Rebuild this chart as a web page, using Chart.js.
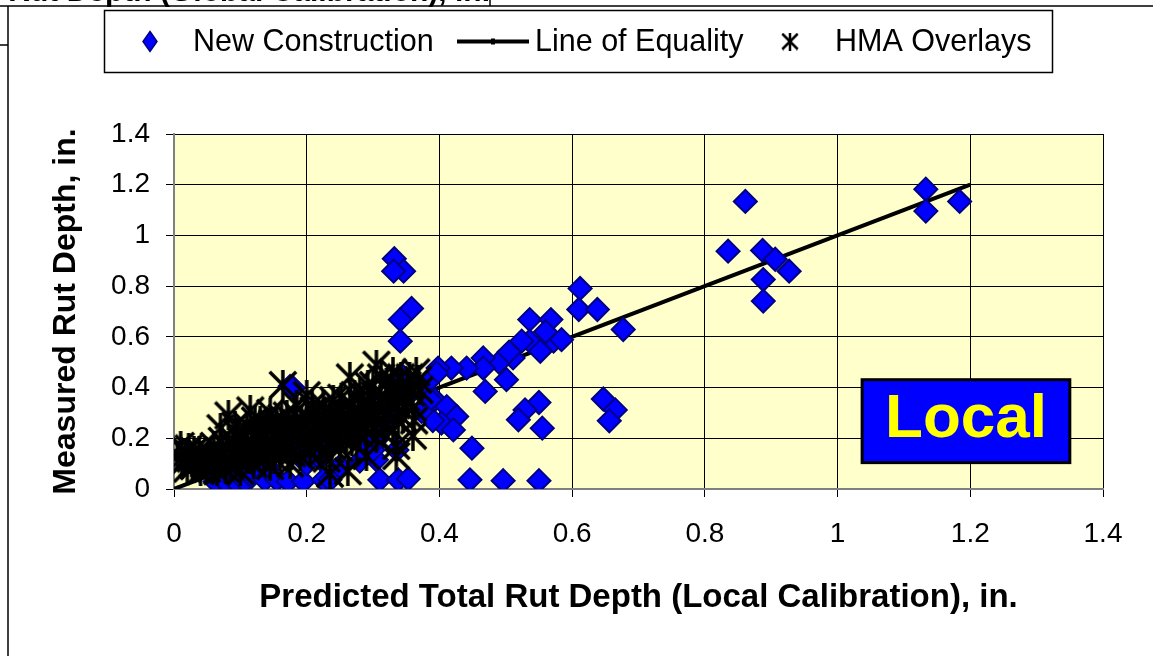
<!DOCTYPE html>
<html>
<head>
<meta charset="utf-8">
<script src="https://cdn.jsdelivr.net/npm/chart.js@4.4.1/dist/chart.umd.min.js"></script>
<style>
  html, body { margin: 0; padding: 0; background: #ffffff; }
  #wrap { position: relative; width: 1153px; height: 656px; }
</style>
</head>
<body>
<div id="wrap"><canvas id="rutChart" width="1153" height="656"></canvas></div>
<script>
// ---- Data ----
const xTicks = [0, 0.2, 0.4, 0.6, 0.8, 1, 1.2, 1.4];
const yTicks = [0, 0.2, 0.4, 0.6, 0.8, 1, 1.2, 1.4];

const seriesLabels = ['New Construction', 'Line of Equality', 'HMA Overlays'];

// New construction sections [predicted, measured]
const newConstruction = [
  [0.861, 1.134], [0.835, 0.938], [0.887, 0.941], [0.906, 0.906], [0.927, 0.859],
  [0.888, 0.826], [0.888, 0.741], [1.133, 1.182], [1.133, 1.096], [1.184, 1.134],
  [0.612, 0.791], [0.610, 0.708], [0.638, 0.708], [0.677, 0.629],
  [0.647, 0.355], [0.665, 0.312], [0.656, 0.269],
  [0.550, 0.341], [0.529, 0.312], [0.519, 0.273], [0.555, 0.240],
  [0.496, 0.033], [0.550, 0.033], [0.446, 0.036],
  [0.536, 0.668], [0.568, 0.668], [0.536, 0.583], [0.572, 0.583], [0.552, 0.543],
  [0.584, 0.589], [0.511, 0.517], [0.501, 0.431], [0.524, 0.583], [0.560, 0.620],
  [0.490, 0.500], [0.505, 0.540],
  [0.466, 0.517], [0.466, 0.477], [0.441, 0.477], [0.418, 0.477], [0.398, 0.477],
  [0.469, 0.385], [0.393, 0.352], [0.411, 0.325], [0.426, 0.286], [0.403, 0.260],
  [0.421, 0.233], [0.449, 0.161],
  [0.332, 0.908], [0.346, 0.859], [0.331, 0.859], [0.358, 0.712], [0.341, 0.668], [0.341, 0.583],
  [0.396, 0.457], [0.381, 0.418], [0.386, 0.352], [0.390, 0.270], [0.351, 0.365], [0.345, 0.444],
  [0.310, 0.036], [0.338, 0.036], [0.353, 0.040], [0.373, 0.306], [0.305, 0.115], [0.298, 0.167],
  [0.336, 0.154], [0.300, 0.154], [0.290, 0.180], [0.305, 0.194], [0.275, 0.207],
  [0.180, 0.398], [0.175, 0.405],
  [0.062, 0.030], [0.077, 0.030], [0.092, 0.030], [0.107, 0.030], [0.087, 0.075], [0.102, 0.083],
  [0.117, 0.049], [0.137, 0.036], [0.152, 0.049], [0.155, 0.036], [0.172, 0.030], [0.195, 0.030],
  [0.225, 0.036], [0.235, 0.036], [0.147, 0.260], [0.132, 0.246],
  [0.120, 0.110], [0.140, 0.090], [0.200, 0.100], [0.220, 0.120], [0.250, 0.090], [0.280, 0.110],
  [0.160, 0.150], [0.190, 0.170], [0.240, 0.180], [0.260, 0.250], [0.320, 0.250], [0.330, 0.300]
];

// HMA overlay sections [predicted, measured]
const hmaOverlays = [
  [0.005, 0.13], [0.010, 0.17], [0.012, 0.10], [0.018, 0.14], [0.020, 0.08], [0.025, 0.12],
  [0.030, 0.09], [0.030, 0.15], [0.035, 0.11], [0.040, 0.07], [0.040, 0.13], [0.045, 0.10],
  [0.050, 0.08], [0.050, 0.12], [0.055, 0.14],
  [0.060, 0.10], [0.060, 0.17], [0.065, 0.07], [0.070, 0.13], [0.070, 0.24], [0.075, 0.11],
  [0.080, 0.16], [0.082, 0.29], [0.085, 0.09], [0.090, 0.19], [0.090, 0.13], [0.095, 0.22],
  [0.100, 0.11], [0.100, 0.16], [0.100, 0.07],
  [0.105, 0.20], [0.110, 0.25], [0.110, 0.14], [0.115, 0.31], [0.120, 0.18], [0.120, 0.10],
  [0.125, 0.22], [0.130, 0.15], [0.130, 0.27], [0.135, 0.12], [0.140, 0.19], [0.140, 0.24],
  [0.145, 0.30], [0.145, 0.09], [0.150, 0.16], [0.150, 0.21],
  [0.155, 0.26], [0.160, 0.13], [0.160, 0.19], [0.164, 0.41], [0.165, 0.23], [0.170, 0.29],
  [0.170, 0.16], [0.175, 0.10], [0.180, 0.21], [0.180, 0.26], [0.185, 0.33], [0.190, 0.18],
  [0.190, 0.13], [0.195, 0.24], [0.200, 0.28], [0.200, 0.37], [0.200, 0.20],
  [0.205, 0.15], [0.210, 0.25], [0.210, 0.31], [0.215, 0.22], [0.220, 0.18], [0.225, 0.33],
  [0.225, 0.27], [0.230, 0.12], [0.230, 0.23], [0.235, 0.06], [0.235, 0.30], [0.240, 0.20],
  [0.240, 0.35], [0.245, 0.26], [0.250, 0.16], [0.250, 0.31], [0.250, 0.23],
  [0.255, 0.28], [0.260, 0.20], [0.262, 0.07], [0.265, 0.44], [0.265, 0.34], [0.270, 0.25],
  [0.270, 0.30], [0.275, 0.17], [0.280, 0.38], [0.280, 0.22], [0.285, 0.32], [0.290, 0.27],
  [0.290, 0.13], [0.295, 0.36], [0.300, 0.24], [0.300, 0.41], [0.300, 0.31],
  [0.305, 0.49], [0.305, 0.20], [0.310, 0.35], [0.315, 0.27], [0.320, 0.42], [0.320, 0.30],
  [0.325, 0.38], [0.330, 0.46], [0.330, 0.23], [0.335, 0.13], [0.335, 0.33], [0.340, 0.40],
  [0.345, 0.28], [0.350, 0.36], [0.355, 0.44], [0.360, 0.21], [0.360, 0.32], [0.365, 0.46],
  [0.370, 0.39],
  [0.015, 0.11], [0.022, 0.16], [0.028, 0.10], [0.038, 0.15], [0.048, 0.11], [0.058, 0.09],
  [0.068, 0.15], [0.072, 0.19], [0.078, 0.08], [0.088, 0.17], [0.092, 0.25], [0.098, 0.14],
  [0.108, 0.17], [0.112, 0.12], [0.118, 0.21], [0.122, 0.27], [0.128, 0.13], [0.132, 0.19],
  [0.138, 0.22], [0.142, 0.15], [0.148, 0.26], [0.152, 0.12], [0.158, 0.21], [0.162, 0.28],
  [0.168, 0.18], [0.172, 0.24], [0.178, 0.14], [0.182, 0.30], [0.188, 0.22], [0.192, 0.27],
  [0.198, 0.16], [0.202, 0.23], [0.208, 0.33], [0.212, 0.19], [0.218, 0.27], [0.222, 0.14],
  [0.228, 0.30], [0.232, 0.25], [0.238, 0.17], [0.242, 0.29], [0.248, 0.21], [0.252, 0.36],
  [0.258, 0.24], [0.262, 0.29], [0.268, 0.19], [0.272, 0.37], [0.278, 0.27], [0.282, 0.33],
  [0.288, 0.23], [0.292, 0.41], [0.298, 0.28], [0.302, 0.37], [0.308, 0.31], [0.312, 0.44],
  [0.318, 0.25], [0.322, 0.35], [0.328, 0.41], [0.332, 0.37], [0.338, 0.27], [0.342, 0.44],
  [0.348, 0.33], [0.352, 0.41], [0.358, 0.38], [0.362, 0.27], [0.368, 0.43], [0.335, 0.17]
];

// 1:1 line
const equalityLine = [[0, 0], [1.2, 1.2]];

const toXY = (pairs) => pairs.map(p => ({ x: p[0], y: p[1] }));

// ---- Styling helpers ----
const FONT = '"Liberation Sans", Arial, sans-serif';

function makeAsterisk(size, lw) {
  const c = document.createElement('canvas');
  c.width = size; c.height = size;
  const g = c.getContext('2d');
  g.strokeStyle = '#000';
  g.lineWidth = lw;
  g.lineCap = 'butt';
  const m = lw / 2;
  g.beginPath();
  g.moveTo(m, m); g.lineTo(size - m, size - m);
  g.moveTo(size - m, m); g.lineTo(m, size - m);
  g.moveTo(size / 2, 0); g.lineTo(size / 2, size);
  g.stroke();
  return c;
}
const asteriskBig = makeAsterisk(30, 3.5);
const asteriskLegend = makeAsterisk(18, 2.5);

// plot background + page frame lines
const backgroundPlugin = {
  id: 'plotBackground',
  beforeDraw(chart) {
    const { ctx, chartArea: a } = chart;
    ctx.save();
    ctx.fillStyle = '#ffffff';
    ctx.fillRect(0, 0, chart.width, chart.height);
    ctx.fillStyle = '#FFFFCC';
    ctx.fillRect(a.left, a.top, a.right - a.left, a.bottom - a.top);

    // remnants of the page around the figure
    ctx.strokeStyle = '#000';
    ctx.lineWidth = 1.5;
    ctx.beginPath();
    ctx.moveTo(0, 6); ctx.lineTo(chart.width, 6);
    ctx.moveTo(8, 6); ctx.lineTo(8, chart.height);
    ctx.moveTo(490, 0); ctx.lineTo(490, 6);
    ctx.moveTo(0, 45); ctx.lineTo(8, 45);
    ctx.stroke();
    ctx.fillStyle = '#000';
    ctx.font = 'bold 30px ' + FONT;
    ctx.textAlign = 'right';
    ctx.textBaseline = 'alphabetic';
    ctx.fillText('Predicted Total Rut Depth (Global Calibration), in.', 490, 1);
    ctx.restore();
  }
};

// "Local" label box
const localBoxPlugin = {
  id: 'localBox',
  afterDatasetsDraw(chart) {
    const { ctx, scales: { x, y } } = chart;
    const l = x.getPixelForValue(1.037), r = x.getPixelForValue(1.350);
    const t = y.getPixelForValue(0.431), b = y.getPixelForValue(0.104);
    ctx.save();
    ctx.fillStyle = '#0000FF';
    ctx.fillRect(l, t, r - l, b - t);
    ctx.strokeStyle = '#000';
    ctx.lineWidth = 3;
    ctx.strokeRect(l, t, r - l, b - t);
    ctx.fillStyle = '#FFFF00';
    ctx.font = 'bold 62px ' + FONT;
    ctx.textAlign = 'center';
    ctx.textBaseline = 'alphabetic';
    ctx.fillText('Local', (l + r) / 2, t + 57);
    ctx.restore();
  }
};

// framed legend across the top
const legendPlugin = {
  id: 'framedLegend',
  afterDraw(chart) {
    const { ctx } = chart;
    const box = { left: 104.5, top: 10.5, width: 948, height: 62 };
    const cy = box.top + box.height / 2;
    const markX = [150, 493, 790];
    const textX = [193, 535, 835];
    ctx.save();
    ctx.fillStyle = '#fff';
    ctx.fillRect(box.left, box.top, box.width, box.height);
    ctx.strokeStyle = '#000';
    ctx.lineWidth = 1.5;
    ctx.strokeRect(box.left, box.top, box.width, box.height);

    chart.data.datasets.forEach((ds, i) => {
      if (i === 0) {
        ctx.fillStyle = ds.backgroundColor;
        ctx.strokeStyle = ds.borderColor;
        ctx.lineWidth = 1.5;
        ctx.beginPath();
        ctx.moveTo(markX[i], cy - 10); ctx.lineTo(markX[i] + 7, cy);
        ctx.lineTo(markX[i], cy + 10); ctx.lineTo(markX[i] - 7, cy);
        ctx.closePath();
        ctx.fill(); ctx.stroke();
      } else if (i === 1) {
        ctx.strokeStyle = ds.borderColor;
        ctx.lineWidth = 4;
        ctx.beginPath();
        ctx.moveTo(markX[i] - 36, cy); ctx.lineTo(markX[i] + 36, cy);
        ctx.stroke();
        ctx.fillStyle = ds.borderColor;
        ctx.fillRect(markX[i] - 2, cy - 3, 4, 6);
      } else {
        ctx.drawImage(asteriskLegend, markX[i] - 9, cy - 9);
      }
      ctx.fillStyle = '#000';
      ctx.font = '30.5px ' + FONT;
      ctx.textAlign = 'left';
      ctx.textBaseline = 'middle';
      ctx.fillText(ds.label, textX[i], cy + 1);
    });
    ctx.restore();
  }
};

const tickFmt = (v) => String(+v.toFixed(1));

new Chart(document.getElementById('rutChart'), {
  type: 'scatter',
  data: {
    datasets: [
      {
        label: seriesLabels[0],
        data: toXY(newConstruction),
        pointStyle: 'rectRot',
        pointRadius: 11.5,
        pointHoverRadius: 11.5,
        backgroundColor: '#0000FF',
        borderColor: '#000080',
        borderWidth: 2,
        order: 1
      },
      {
        label: seriesLabels[1],
        type: 'line',
        data: toXY(equalityLine),
        borderColor: '#000000',
        backgroundColor: '#000000',
        borderWidth: 4,
        pointRadius: 0,
        showLine: true,
        fill: false,
        tension: 0,
        order: 2
      },
      {
        label: seriesLabels[2],
        data: toXY(hmaOverlays),
        pointStyle: asteriskBig,
        pointRadius: 15,
        backgroundColor: '#000',
        borderColor: '#000',
        order: 0
      }
    ]
  },
  options: {
    responsive: false,
    animation: false,
    layout: { padding: { left: 40, right: 50, top: 134, bottom: 38 } },
    plugins: {
      legend: { display: false },
      tooltip: { enabled: false }
    },
    scales: {
      x: {
        type: 'linear',
        min: 0,
        max: 1.4,
        afterBuildTicks: (s) => { s.ticks = xTicks.map(v => ({ value: v })); },
        afterFit: (s) => { s.height = 129; },
        ticks: {
          color: '#000',
          font: { family: FONT, size: 28 },
          padding: 20,
          maxRotation: 0,
          callback: tickFmt
        },
        grid: { color: '#000', lineWidth: 1, tickLength: 8, tickColor: '#000' },
        border: { display: true, color: '#808080', width: 2 },
        title: {
          display: true,
          text: 'Predicted Total Rut Depth (Local Calibration), in.',
          color: '#000',
          font: { family: FONT, size: 33, weight: 'bold' },
          padding: { top: 0, bottom: 0 }
        }
      },
      y: {
        type: 'linear',
        min: 0,
        max: 1.4,
        afterBuildTicks: (s) => { s.ticks = yTicks.map(v => ({ value: v })); },
        afterFit: (s) => { s.width = 134; },
        ticks: {
          color: '#000',
          font: { family: FONT, size: 28 },
          padding: 16,
          callback: tickFmt
        },
        grid: { color: '#000', lineWidth: 1, tickLength: 8, tickColor: '#000' },
        border: { display: true, color: '#808080', width: 2 },
        title: {
          display: true,
          text: 'Measured Rut Depth, in.',
          color: '#000',
          font: { family: FONT, size: 32, weight: 'bold' },
          padding: { top: 7, bottom: 0 }
        }
      }
    }
  },
  plugins: [backgroundPlugin, localBoxPlugin, legendPlugin]
});
</script>
</body>
</html>
